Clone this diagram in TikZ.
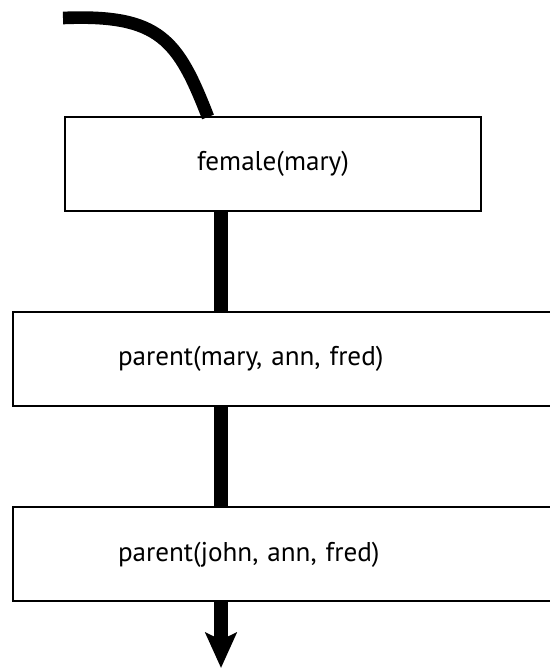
\documentclass[tikz,border=0pt]{standalone}
\usepackage{fontspec}
\setmainfont{PT Sans}
\usetikzlibrary{arrows.meta,calc}

\begin{document}
\begin{tikzpicture}[auto, outer sep=0pt, >={Stealth[width=22pt,length=25pt,inset=5pt]},
  goal/.style={draw, line width=1.4pt, fill=white, minimum height=2.35cm,
    font=\fontsize{19.3}{23}\selectfont, inner sep=0pt},
  widegoal/.style={goal, anchor=west, text width=8.8cm, align=left, inner xsep=2.625cm}]

\useasboundingbox (0,0) rectangle (13.75,-16.725);

\node[goal, minimum width=10.4cm] at (6.825, -4.1) (FEMALE) {female(mary)};
\node[widegoal] at (0.325, -8.975) (PARENT_MARY) {parent(mary, ann, fred)};
\node[widegoal] at (0.325, -13.86) (PARENT_JOHN) {parent(john, ann, fred)};
\coordinate (START) at (1.575, -0.45);
\coordinate (LINE) at (5.525, 0);
\coordinate (END) at (5.525, -16.7);

    \draw [line width=9pt] (START) .. controls (4.0, -0.35) and (4.45, -1.0) ..
    ($(FEMALE.north)+(-1.625,0)$);
    \draw [line width=10.5pt] (FEMALE.south -| LINE) -- (PARENT_MARY.north -| LINE);
    \draw [line width=10.5pt] (PARENT_MARY.south -| LINE) -- (PARENT_JOHN.north -| LINE);
    \draw [->, line width=10.5pt] (PARENT_JOHN.south -| LINE) -- (END);
\end{tikzpicture}
\end{document}
